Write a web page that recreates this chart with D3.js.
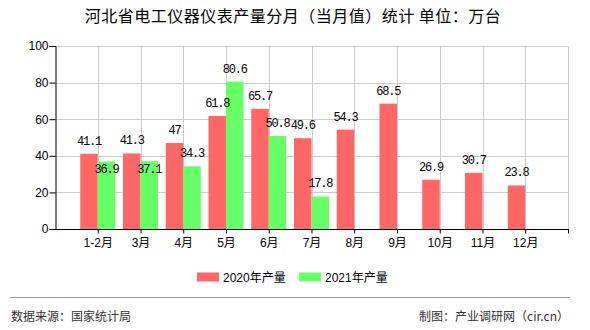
<!DOCTYPE html>
<html><head><meta charset="utf-8">
<script src="https://cdn.jsdelivr.net/npm/d3@7/dist/d3.min.js"></script>
<style>
body{margin:0;background:#fff;}
svg{display:block;}
</style></head>
<body><svg id="c" width="590" height="330"></svg>
<script>
const categories = ["1-2月","3月","4月","5月","6月","7月","8月","9月","10月","11月","12月"];
const series2020 = [41.1,41.3,47,61.8,65.7,49.6,54.3,68.5,26.9,30.7,23.8];
const series2021 = [36.9,37.1,34.3,80.6,50.8,17.8];
const seriesNames = ["2020年产量","2021年产量"];
const colors = ["#ff6666","#66ff66"];
const yTicks = [0,20,40,60,80,100];
const title = "河北省电工仪器仪表产量分月（当月值）统计 单位：万台";
const sourceText = "数据来源：国家统计局";
const creditText = "制图：产业调研网（cir.cn）";

const svg = d3.select("#c");
const L = 55, R = 568, T = 46, B = 229;
const step = (R - L) / 12;
const x = d3.scalePoint().domain(categories).range([L + step, R - step]);
const y = d3.scaleLinear().domain([0,100]).range([B, T]);
const bw = 17.5;
const sansFont = "'Liberation Sans','Noto Sans CJK SC',sans-serif";
const cjkFont = "'Noto Sans CJK SC',sans-serif";

// title
svg.append("text").attr("x",293).attr("y",22).attr("text-anchor","middle")
  .attr("font-family",cjkFont).attr("font-size",16).attr("letter-spacing","0.5px")
  .attr("fill","#000").text(title);

// grid
const g = svg.append("g");
g.selectAll("line.h").data(yTicks.filter(d=>d>0)).join("line")
  .attr("x1",L).attr("x2",R).attr("y1",d=>Math.round(y(d))+0.5).attr("y2",d=>Math.round(y(d))+0.5)
  .attr("stroke","#cccccc");
g.selectAll("line.v").data(categories).join("line")
  .attr("x1",d=>Math.round(x(d))+0.5).attr("x2",d=>Math.round(x(d))+0.5).attr("y1",T).attr("y2",B)
  .attr("stroke","#cccccc");
g.append("line").attr("x1",R+0.5).attr("x2",R+0.5).attr("y1",T).attr("y2",B).attr("stroke","#cccccc");

// bars
svg.append("g").selectAll("rect").data(series2020).join("rect")
  .attr("x",(d,i)=>x(categories[i])-bw).attr("width",bw)
  .attr("y",d=>y(d)).attr("height",d=>B-y(d)).attr("fill",colors[0]);
svg.append("g").selectAll("rect").data(series2021).join("rect")
  .attr("x",(d,i)=>x(categories[i])).attr("width",bw)
  .attr("y",d=>y(d)).attr("height",d=>B-y(d)).attr("fill",colors[1]);

// axes
const yAxis = d3.axisLeft(y).tickValues(yTicks).tickSize(6).tickPadding(1);
const ya = svg.append("g").attr("transform",`translate(${L+0.5},0)`).call(yAxis);
ya.select(".domain").attr("stroke","#000");
ya.selectAll(".tick line").attr("stroke","#000");
ya.selectAll("text").attr("font-family",sansFont).attr("font-size",12).attr("fill","#000");

const xa = svg.append("g").attr("transform",`translate(0,${B+0.5})`)
  .call(d3.axisBottom(x).tickSize(4).tickPadding(5).tickSizeOuter(0));
xa.select(".domain").attr("d",`M${L},0H${R+1}`).attr("stroke","#000");
xa.selectAll(".tick line").attr("stroke","#000");
xa.selectAll("text").attr("font-family",sansFont).attr("font-size",12).attr("fill","#000");
xa.append("line").attr("x1",R+0.5).attr("x2",R+0.5).attr("y1",0).attr("y2",4).attr("stroke","#000");

// value labels
const labFont = "'Liberation Mono','DejaVu Sans Mono',monospace";
const redBase = series2020.map(d=>y(d)-9);
svg.append("g").selectAll("text").data(series2020).join("text")
  .attr("x",(d,i)=>x(categories[i])-bw/2).attr("y",(d,i)=>redBase[i])
  .attr("text-anchor","middle").attr("font-family",labFont).attr("font-size",12)
  .attr("letter-spacing","-1.2px").attr("fill","#000").text(d=>d);
svg.append("g").selectAll("text").data(series2021).join("text")
  .attr("x",(d,i)=>x(categories[i])+bw/2)
  .attr("y",(d,i)=>{const b=y(d)-9; return Math.abs(b-redBase[i])<13 ? y(d)+12 : b;})
  .attr("text-anchor","middle").attr("font-family",labFont).attr("font-size",12)
  .attr("letter-spacing","-1.2px").attr("fill","#000").text(d=>d);

// legend
const legX = [197,299];
seriesNames.forEach((n,i)=>{
  svg.append("rect").attr("x",legX[i]).attr("y",272.5).attr("width",22).attr("height",9).attr("fill",colors[i]);
  svg.append("text").attr("x",legX[i]+26).attr("y",282).attr("font-family",sansFont)
    .attr("font-size",12).attr("fill","#000").text(n);
});

// footer
svg.append("line").attr("x1",10).attr("x2",570).attr("y1",297.5).attr("y2",297.5).attr("stroke","#999");
svg.append("text").attr("x",11).attr("y",321).attr("font-family",cjkFont).attr("font-size",12)
  .attr("fill","#333").text(sourceText);
svg.append("text").attr("x",569).attr("y",321).attr("text-anchor","end").attr("font-family",cjkFont)
  .attr("font-size",12).attr("fill","#333").text(creditText);
</script></body></html>
